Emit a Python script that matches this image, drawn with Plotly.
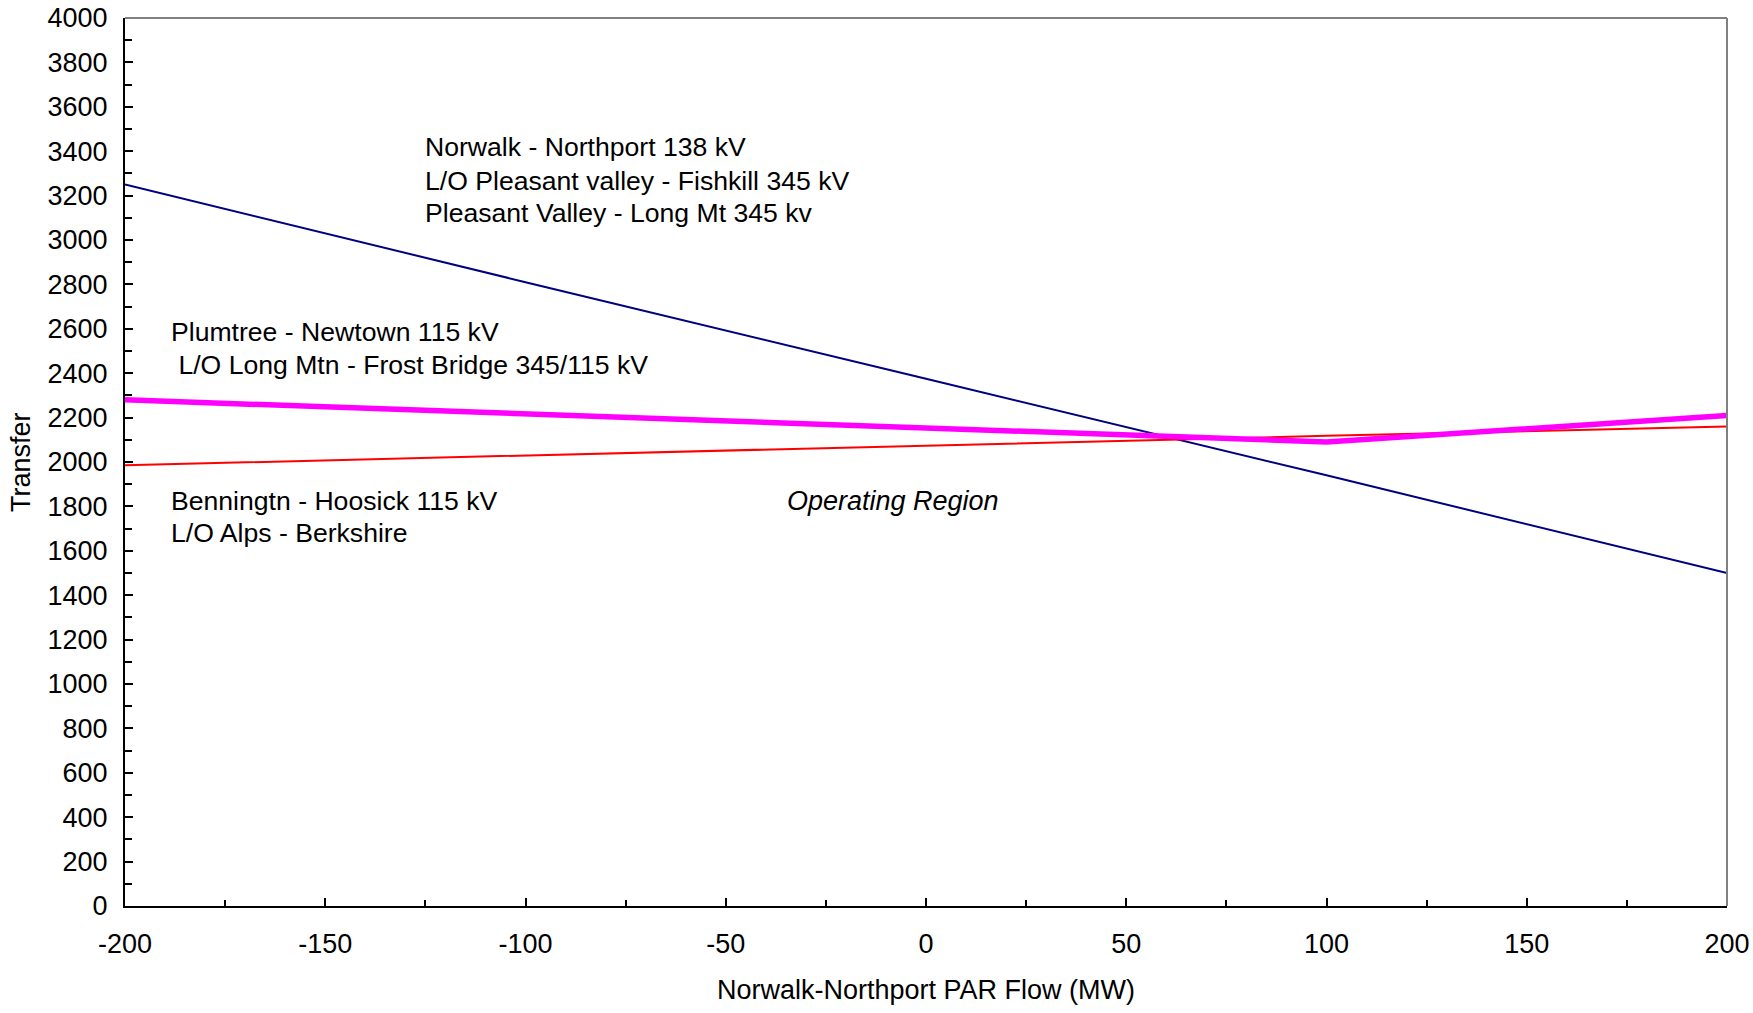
import plotly.graph_objects as go

# PAR flow on the Norwalk-Northport tie (MW)
par_flow = [-200, -100, 0, 100, 200]

# Transfer limits for each constraint
norwalk_northport = [3250, 2810, 2375, 1940, 1500]
bennington_hoosick = [1985, 2030, 2075, 2118, 2160]
plumtree_newtown = [2280, 2215, 2155, 2090, 2210]

# Axis tick values and labels
x_ticks = [-200, -150, -100, -50, 0, 50, 100, 150, 200]
x_tick_labels = ["-200", "-150", "-100", "-50", "0", "50", "100", "150", "200"]

# Constraint descriptions
norwalk_text = ["Norwalk - Northport 138 kV",
                "L/O Pleasant valley - Fishkill 345 kV",
                "Pleasant Valley - Long Mt 345 kv"]
plumtree_text = ["Plumtree - Newtown 115 kV",
                 "\u00a0L/O Long Mtn - Frost Bridge 345/115 kV"]
bennington_text = ["Benningtn - Hoosick 115 kV",
                   "L/O Alps - Berkshire"]

FONT = "Liberation Sans, Arial, sans-serif"
FS = 26.6
FS_AXIS = 27

fig = go.Figure()

fig.add_trace(go.Scatter(x=par_flow, y=norwalk_northport, mode="lines",
                         line=dict(color="#000080", width=2), hoverinfo="skip"))
fig.add_trace(go.Scatter(x=par_flow, y=bennington_hoosick, mode="lines",
                         line=dict(color="#FF0000", width=2), hoverinfo="skip"))
fig.add_trace(go.Scatter(x=par_flow, y=plumtree_newtown, mode="lines",
                         line=dict(color="#FF00FF", width=5.5), hoverinfo="skip"))

axis_common = dict(
    showgrid=False, zeroline=False, showline=True, linecolor="black", linewidth=2,
    ticks="inside", ticklen=8, tickwidth=2, tickcolor="black", automargin=False,
    tickfont=dict(family=FONT, size=FS_AXIS, color="black"),
)

fig.update_xaxes(range=[-200, 200], tickmode="array", tickvals=x_ticks, ticktext=x_tick_labels,
                 minor=dict(ticks="inside", dtick=25, tick0=-200, ticklen=6, tickwidth=2, tickcolor="black"),
                 ticklabelstandoff=13, **axis_common)
fig.update_yaxes(range=[0, 4000], dtick=200, tick0=0,
                 minor=dict(ticks="inside", dtick=100, ticklen=7, tickwidth=2, tickcolor="black"),
                 ticklabelstandoff=10, **axis_common)

# Grey frame on top and right sides
fig.add_shape(type="line", xref="paper", yref="paper", x0=0, x1=1, y0=1, y1=1,
              line=dict(color="#808080", width=2))
fig.add_shape(type="line", xref="paper", yref="paper", x0=1, x1=1, y0=0, y1=1,
              line=dict(color="#808080", width=2))

txt = dict(family=FONT, size=FS, color="black")
txt_axis = dict(family=FONT, size=FS_AXIS, color="black")


def text_block(lines, x, ys):
    return [dict(x=x, y=y, text=t, xanchor="left", yanchor="middle", align="left",
                 showarrow=False, font=txt) for t, y in zip(lines, ys)]


annotations = (
    text_block(norwalk_text, -125.5, [3421, 3266, 3120])
    + text_block(plumtree_text, -189, [2586, 2439])
    + text_block(bennington_text, -189, [1824, 1680])
    + [
        dict(x=-35.3, y=1824, text="<i>Operating Region</i>",
             xanchor="left", yanchor="middle", align="left", showarrow=False,
             font=dict(family=FONT, size=27, color="black")),
        # axis titles
        dict(x=0.5, y=-(990 - 906) / 888, xref="paper", yref="paper", text="Norwalk-Northport PAR Flow (MW)",
             xanchor="center", yanchor="middle", showarrow=False, font=txt_axis),
        dict(x=-(125 - 21) / 1602, y=0.5, xref="paper", yref="paper", text="Transfer", textangle=-90,
             xanchor="center", yanchor="middle", showarrow=False, font=txt_axis),
    ]
)

fig.update_layout(
    width=1753, height=1013,
    margin=dict(l=125, r=26, t=18, b=107, autoexpand=False),
    plot_bgcolor="white", paper_bgcolor="white",
    showlegend=False,
    annotations=annotations,
)

fig.write_html("out.html")
